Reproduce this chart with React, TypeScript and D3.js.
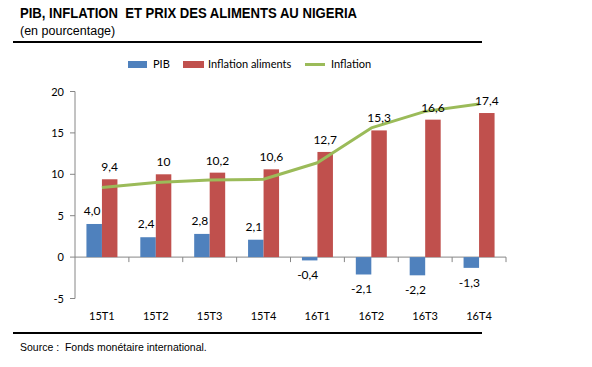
import React from "react";
import * as d3 from "d3";

const categories = ["15T1", "15T2", "15T3", "15T4", "16T1", "16T2", "16T3", "16T4"];
const pib = [4.0, 2.4, 2.8, 2.1, -0.4, -2.1, -2.2, -1.3];
const inflationAliments = [9.4, 10, 10.2, 10.6, 12.7, 15.3, 16.6, 17.4];
const inflation = [8.4, 9.0, 9.3, 9.4, 11.4, 15.6, 17.6, 18.5];
const yTicks = [-5, 0, 5, 10, 15, 20];

const fmt = (v: number, digits: number) => v.toFixed(digits).replace(".", ",");

export default function App() {
  const W = 592, H = 367;
  const x = d3.scaleBand<string>().domain(categories).range([75, 506]);
  const y = d3.scaleLinear().domain([-5, 20]).range([298.5, 91.5]);
  const bw = 15.5;
  const font = "Lato, 'Open Sans', sans-serif";
  const line = d3.line<number>()
    .x((_, i) => (x(categories[i]) as number) + x.bandwidth() / 2)
    .y((d) => y(d));
  const axisColor = "#868686";
  return (
    <div style={{ position: "absolute", left: 0, top: 0 }}>
      <svg width={W} height={H} style={{ display: "block" }}>
        <rect width={W} height={H} fill="#fff" />
        <text x={20} y={18} xmlSpace="preserve" style={{ whiteSpace: "pre" }} textLength={337} lengthAdjust="spacingAndGlyphs" fontFamily="'Liberation Sans', Arial, sans-serif" fontWeight="bold" fontSize={14.5} fill="#000">
          {"PIB, INFLATION  ET PRIX DES ALIMENTS AU NIGERIA"}
        </text>
        <text x={20} y={35} fontFamily="'Liberation Sans', Arial, sans-serif" fontSize={12.5} fill="#000">
          (en pourcentage)
        </text>
        <line x1={13} x2={482} y1={42} y2={42} stroke="#000" strokeWidth={2} />
        <line x1={13} x2={482} y1={333} y2={333} stroke="#000" strokeWidth={2} />
        <text x={20} y={351} xmlSpace="preserve" style={{ whiteSpace: "pre" }} fontFamily="'Liberation Sans', Arial, sans-serif" fontSize={10.5} fill="#000">
          {"Source :  Fonds monétaire international."}
        </text>

        {/* legend */}
        <rect x={128} y={61} width={19} height={7} fill="#4f81bd" />
        <text x={153} y={68} fontFamily={font} fontSize={11} fill="#000">PIB</text>
        <rect x={183} y={61} width={21} height={7} fill="#c0504d" />
        <text x={208} y={68} fontFamily={font} fontSize={11} fill="#000">Inflation aliments</text>
        <line x1={305} x2={325} y1={64.5} y2={64.5} stroke="#9bbb59" strokeWidth={3} />
        <text x={331} y={68} fontFamily={font} fontSize={11} fill="#000">Inflation</text>

        {/* y axis */}
        <line x1={75} x2={75} y1={y(20)} y2={y(-5)} stroke={axisColor} />
        {yTicks.map((t) => (
          <g key={t}>
            <line x1={70} x2={75} y1={y(t)} y2={y(t)} stroke={axisColor} />
            <text x={64} y={y(t) + 4} textAnchor="end" fontFamily={font} fontSize={11} fill="#000">{t}</text>
          </g>
        ))}
        {/* x axis */}
        <line x1={75} x2={506} y1={y(0)} y2={y(0)} stroke={axisColor} />
        {categories.map((c) => (
          <g key={c}>
            <line x1={(x(c) as number) + x.bandwidth()} x2={(x(c) as number) + x.bandwidth()} y1={y(0)} y2={y(0) + 5} stroke={axisColor} />
            <text x={(x(c) as number) + x.bandwidth() / 2} y={320} textAnchor="middle" fontFamily={font} fontSize={11} fill="#000">{c}</text>
          </g>
        ))}

        {/* bars */}
        {categories.map((c, i) => {
          const cx = (x(c) as number) + x.bandwidth() / 2;
          const p = pib[i];
          const r = inflationAliments[i];
          return (
            <g key={c}>
              <rect x={cx - bw} y={Math.min(y(p), y(0))} width={bw} height={Math.abs(y(p) - y(0))} fill="#4f81bd" />
              <rect x={cx} y={y(r)} width={bw} height={y(0) - y(r)} fill="#c0504d" />
            </g>
          );
        })}

        {/* line */}
        <path d={line(inflation) as string} fill="none" stroke="#9bbb59" strokeWidth={3} strokeLinejoin="round" />

        {/* labels */}
        {categories.map((c, i) => {
          const cx = (x(c) as number) + x.bandwidth() / 2;
          const p = pib[i];
          const r = inflationAliments[i];
          return (
            <g key={c} fontFamily={font} fontSize={12} fill="#000">
              <text x={cx - bw / 2 - 2} y={p >= 0 ? y(p) - 9 : y(p) + 19} textAnchor="middle">{fmt(p, 1)}</text>
              <text x={cx + bw / 2} y={y(r) - 8} textAnchor="middle">{Number.isInteger(r) ? String(r) : fmt(r, 1)}</text>
            </g>
          );
        })}
      </svg>
    </div>
  );
}
